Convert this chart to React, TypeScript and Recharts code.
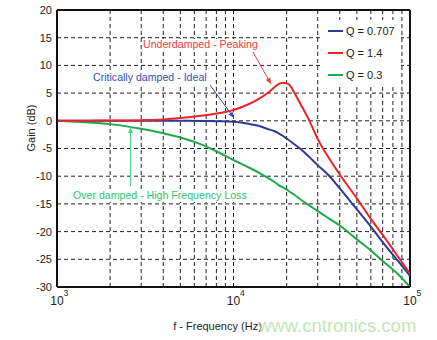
import React from "react";
import { LineChart, Line, XAxis, YAxis, CartesianGrid, ReferenceLine, Legend } from "recharts";

const freqs = [1000, 1500, 2000, 3000, 4000, 5000, 6500, 8000, 10000, 12000, 14000, 16000, 17000, 18000, 19000, 20000, 21000, 22000, 24000, 27000, 30000, 35000, 40000, 50000, 60000, 70000, 85000, 100000];
const gainQ0707 = [0, 0, 0, 0, 0, 0, -0.03, -0.07, -0.15, -0.5, -0.95, -1.6, -1.85, -2.25, -2.7, -3.2, -3.7, -4.2, -5.1, -6.6, -8.0, -10.0, -12.2, -16.0, -19.1, -21.9, -25.2, -28];
const gainQ14 = [0, 0.02, 0.05, 0.12, 0.25, 0.5, 0.9, 1.3, 1.95, 2.9, 4.0, 5.3, 6.0, 6.6, 6.85, 6.75, 6.3, 5.2, 3.0, -0.1, -3.3, -6.9, -9.7, -14.0, -17.7, -20.6, -24.4, -27.6];
const gainQ03 = [0, -0.3, -0.6, -1.45, -2.25, -3.0, -4.2, -5.5, -7.1, -8.3, -9.4, -10.5, -11.0, -11.6, -12.0, -12.4, -12.9, -13.3, -14.2, -15.3, -16.3, -17.7, -18.9, -21.4, -23.4, -25.3, -27.6, -30];

const seriesNames = ["Q = 0.707", "Q = 1.4", "Q = 0.3"];
const seriesColors = ["#2d3a96", "#ec2328", "#1caa4c"];

const xTicks = [1000, 2000, 3000, 4000, 5000, 6000, 7000, 8000, 9000, 10000, 20000, 30000, 40000, 50000, 60000, 70000, 80000, 90000, 100000];
const yTicks = [-30, -25, -20, -15, -10, -5, 0, 5, 10, 15, 20];

const data = freqs.map((f, i) => ({ f, q0707: gainQ0707[i], q14: gainQ14[i], q03: gainQ03[i] }));

const FONT = "'Liberation Sans', Arial, sans-serif";

const XTick = (props: any) => {
  const { x, y, payload } = props;
  const v = payload.value;
  const exp = Math.round(Math.log10(v));
  if (Math.abs(Math.pow(10, exp) - v) > 1e-6) return <g />;
  return (
    <g>
      <text x={x} y={y + 18} textAnchor="middle" fontSize={12} fill="#222" fontFamily={FONT}>10</text>
      <text x={x + 6.5} y={y + 9} fontSize={8.5} fill="#222" fontFamily={FONT}>{exp}</text>
    </g>
  );
};

const LegendContent = (props: any) => {
  const payload = props.payload || [];
  return (
    <div style={{ background: "#fff", width: 78, height: 66, fontFamily: FONT, fontSize: 11, color: "#222" }}>
      {payload.map((p: any, i: number) => (
        <div key={i} style={{ display: "flex", alignItems: "center", height: 22, paddingLeft: 5 }}>
          <div style={{ width: 15, height: 2, background: p.color, marginRight: 3 }} />
          <span>{p.value}</span>
        </div>
      ))}
    </div>
  );
};

const arrowHead = (x1: number, y1: number, x2: number, y2: number, len = 6, w = 2.5) => {
  const dx = x2 - x1, dy = y2 - y1;
  const d = Math.sqrt(dx * dx + dy * dy);
  const ux = dx / d, uy = dy / d;
  const bx = x2 - ux * len, by = y2 - uy * len;
  return `${x2},${y2} ${bx - uy * w},${by + ux * w} ${bx + uy * w},${by - ux * w}`;
};

const Arrow = ({ x1, y1, x2, y2, color }: any) => (
  <g>
    <line x1={x1} y1={y1} x2={x2} y2={y2} stroke={color} strokeWidth={1} />
    <polygon points={arrowHead(x1, y1, x2, y2)} fill={color} />
  </g>
);

const Note = ({ x, y, w, color, children }: any) => (
  <g>
    <rect x={x - 1} y={y - 9} width={w} height={12} fill="#fff" />
    <text x={x} y={y} fontSize={10.6} fill={color} fontFamily={FONT}>{children}</text>
  </g>
);

export default function App() {
  return (
    <div style={{ position: "absolute", left: 0, top: 0, width: 437, height: 340, background: "#fff" }}>
      <LineChart width={437} height={340} data={data} margin={{ top: 10, right: 27, left: 0, bottom: 23 }}>
        <CartesianGrid stroke="#222" strokeDasharray="4 3" strokeWidth={1} />
        <XAxis
          dataKey="f"
          type="number"
          scale="log"
          domain={[1000, 100000]}
          ticks={xTicks}
          interval={0}
          tick={<XTick />}
          tickLine={false}
          tickSize={0}
          tickMargin={0}
          height={30}
          axisLine={{ stroke: "#111", strokeWidth: 2 }}
          allowDataOverflow
        />
        <YAxis
          type="number"
          domain={[-30, 20]}
          ticks={yTicks}
          interval={0}
          width={57}
          tickLine={false}
          tickSize={4}
          tickMargin={1}
          axisLine={{ stroke: "#111", strokeWidth: 2 }}
          tick={{ fontSize: 11, fill: "#222", fontFamily: FONT }}
          allowDataOverflow
        />
        <ReferenceLine x={100000} stroke="#111" strokeWidth={2} />
        <ReferenceLine y={20} stroke="#111" strokeWidth={2} />
        <Line dataKey="q0707" name={seriesNames[0]} stroke={seriesColors[0]} strokeWidth={2} dot={false} type="monotone" isAnimationActive={false} />
        <Line dataKey="q03" name={seriesNames[2]} stroke={seriesColors[2]} strokeWidth={2} dot={false} type="monotone" isAnimationActive={false} />
        <Line dataKey="q14" name={seriesNames[1]} stroke={seriesColors[1]} strokeWidth={2} dot={false} type="monotone" isAnimationActive={false} />
        <Legend
          layout="vertical"
          align="center"
          verticalAlign="middle"
          content={(p: any) => {
            const order = [seriesNames[0], seriesNames[1], seriesNames[2]];
            const pl = [...(p.payload || [])].sort((a: any, b: any) => order.indexOf(a.value) - order.indexOf(b.value));
            return <LegendContent payload={pl} />;
          }}
          wrapperStyle={{ position: "absolute", left: 323, top: 20, width: 78, height: 66, margin: 0 }}
        />
      </LineChart>
      <svg width={437} height={340} style={{ position: "absolute", left: 0, top: 0, pointerEvents: "none" }}>
        <text x={32} y={128} transform="rotate(-90 32 128)" textAnchor="middle" dominantBaseline="middle" fontSize={11} fill="#222" fontFamily={FONT}>Gain (dB)</text>
        <text x={217.5} y={330} textAnchor="middle" fontSize={11} fill="#222" fontFamily={FONT}>f - Frequency (Hz)</text>
        <text x={258} y={332} fontSize={18.5} fill="#b9e0a6" fillOpacity={0.85} fontFamily={FONT}>www.cntronics.com</text>
        <Note x={143} y={48} w={117} color="#ee3a3a">Underdamped - Peaking</Note>
        <Arrow x1={253} y1={52} x2={271} y2={84} color="#ee3a3a" />
        <Note x={93} y={81} w={117} color="#3a4bb0">Critically damped - Ideal</Note>
        <Arrow x1={210} y1={85} x2={234} y2={118} color="#3a4bb0" />
        <Note x={73} y={199} w={180} color="#2fc46c">Over damped - High Frequency Loss</Note>
        <Arrow x1={130.5} y1={186} x2={130.5} y2={127} color="#4fd285" />
      </svg>
    </div>
  );
}
